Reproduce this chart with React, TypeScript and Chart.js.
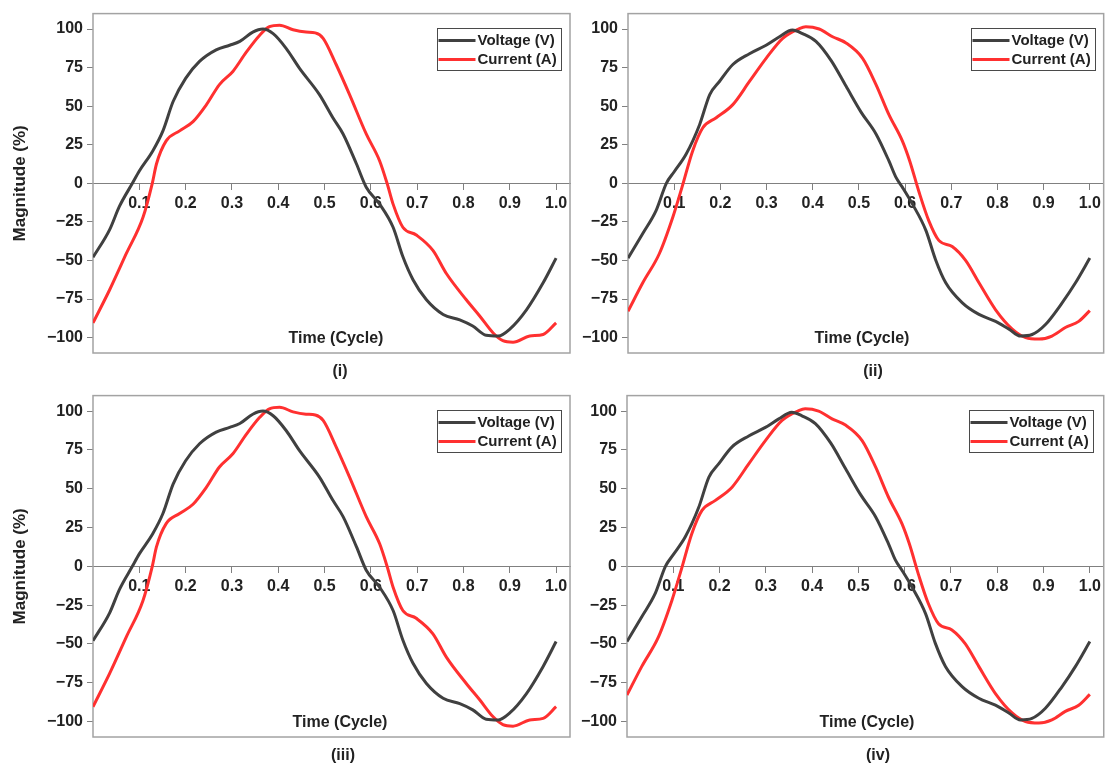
import React, { useEffect, useRef } from "react";
import { Chart, registerables } from "chart.js";

Chart.register(...registerables);

const FONT = "'Liberation Sans', Arial, sans-serif";
const TEXT = "#222222";
const AXIS = "#808080";
const FRAME = "#a3a3a3";
const VOLT_COLOR = "#404040";
const CURR_COLOR = "#ff3030";

// ---------- tick labels / texts ----------
const xTicks = [0.1, 0.2, 0.3, 0.4, 0.5, 0.6, 0.7, 0.8, 0.9, 1.0];
const yTicks = [-100, -75, -50, -25, 0, 25, 50, 75, 100];
const seriesLabels = ["Voltage (V)", "Current (A)"];
const captions = ["(i)", "(ii)", "(iii)", "(iv)"];
const xTitle = "Time (Cycle)";
const yTitle = "Magnitude (%)";

// ---------- data: case (i) / (iii) ----------
const voltageAT = [0, 0.036, 0.057, 0.085, 0.1, 0.129, 0.151, 0.173, 0.2, 0.23, 0.266, 0.295, 0.317, 0.345, 0.367, 0.389, 0.417, 0.446, 0.489, 0.518, 0.54, 0.569, 0.59, 0.619, 0.648, 0.669, 0.691, 0.72, 0.756, 0.792, 0.82, 0.849, 0.875, 0.9, 0.936, 0.972, 1.0];
const voltageAV = [-48, -30, -15, 0, 8, 21, 34, 53, 68, 79, 86.5, 89.5, 92, 98, 100, 97, 87.5, 74.5, 57.5, 42.5, 32, 12.5, -2.5, -13.5, -28.5, -47.5, -62.5, -75.5, -85, -88.5, -92.5, -98.5, -99, -94.5, -82, -64.5, -48.5];
const currentAT = [0, 0.036, 0.072, 0.108, 0.128, 0.137, 0.158, 0.187, 0.216, 0.245, 0.273, 0.302, 0.331, 0.36, 0.381, 0.403, 0.432, 0.46, 0.48, 0.497, 0.525, 0.554, 0.59, 0.619, 0.635, 0.648, 0.669, 0.698, 0.734, 0.763, 0.806, 0.835, 0.864, 0.885, 0.907, 0.943, 0.972, 1.0];
const currentAV = [-90.5, -69, -45.5, -22, 0, 12.5, 27.5, 34, 40, 51, 64, 72.5, 85, 96, 101.5, 102.5, 99.5, 98, 97.5, 94, 77, 57.5, 32, 14.5, 0, -13.5, -28.5, -33.5, -43.5, -58.5, -75.5, -86, -97, -102, -103, -99, -98, -90.5];

// ---------- data: case (ii) / (iv) ----------
const voltageBT = [0, 0.032, 0.061, 0.083, 0.1, 0.126, 0.155, 0.177, 0.198, 0.227, 0.263, 0.299, 0.328, 0.356, 0.378, 0.407, 0.44, 0.472, 0.505, 0.537, 0.565, 0.58, 0.594, 0.616, 0.645, 0.666, 0.688, 0.724, 0.76, 0.796, 0.825, 0.85, 0.875, 0.904, 0.94, 0.969, 1.0];
const voltageBV = [-48.5, -32.5, -17.5, 0, 7.5, 19, 38, 57.5, 66, 77, 84, 89.5, 95, 99.3, 97, 92, 79.5, 63, 46, 32, 14.5, 4, -2.5, -13.5, -30.5, -49.5, -64.5, -77.5, -85, -89.5, -94.5, -99, -98, -91.5, -77.5, -64.5, -48.5];
const currentBT = [0, 0.032, 0.068, 0.097, 0.117, 0.14, 0.162, 0.191, 0.227, 0.263, 0.299, 0.335, 0.371, 0.385, 0.414, 0.443, 0.472, 0.508, 0.537, 0.565, 0.594, 0.61, 0.63, 0.651, 0.673, 0.702, 0.731, 0.76, 0.796, 0.832, 0.861, 0.89, 0.918, 0.947, 0.976, 1.0];
const currentBV = [-83, -64.5, -45.5, -22, -2.5, 21, 36, 42.5, 51, 66, 81, 94, 100.3, 101.5, 100, 95, 91, 81, 64, 44.5, 27.5, 14.5, -5.5, -24, -37, -41, -50, -64.5, -82, -94.5, -100, -101, -99, -93.5, -89.5, -82.5];

type Panel = {
  left: number; top: number; w: number; h: number;
  pad: { top: number; right: number; bottom: number; left: number };
  yW: number; showYTitle: boolean;
  vt: number[]; vv: number[]; ct: number[]; cv: number[];
  caption: string; capX: number; capY: number; timeX: number; legendInset: number;
};

const PANELS: Panel[] = [
  { left: 0, top: 0, w: 575, h: 382, pad: { top: 12, right: 5, bottom: 29, left: 0 }, yW: 93, showYTitle: true,
    vt: voltageAT, vv: voltageAV, ct: currentAT, cv: currentAV, caption: captions[0], capX: 340, capY: 372, timeX: 336, legendInset: 9 },
  { left: 575, top: 0, w: 531, h: 382, pad: { top: 12, right: 2, bottom: 29, left: 0 }, yW: 53, showYTitle: false,
    vt: voltageBT, vv: voltageBV, ct: currentBT, cv: currentBV, caption: captions[1], capX: 298, capY: 372, timeX: 287, legendInset: 9 },
  { left: 0, top: 382, w: 575, h: 385, pad: { top: 12, right: 5, bottom: 30, left: 0 }, yW: 93, showYTitle: true,
    vt: voltageAT, vv: voltageAV, ct: currentAT, cv: currentAV, caption: captions[2], capX: 343, capY: 374, timeX: 340, legendInset: 9 },
  { left: 575, top: 382, w: 531, h: 385, pad: { top: 12, right: 1, bottom: 30, left: 0 }, yW: 52, showYTitle: false,
    vt: voltageBT, vv: voltageBV, ct: currentBT, cv: currentBV, caption: captions[3], capX: 303, capY: 374, timeX: 292, legendInset: 11 },
];

function toPoints(t: number[], v: number[]) {
  return t.map((x, i) => ({ x, y: v[i] }));
}

function PanelChart({ p }: { p: Panel }) {
  const ref = useRef<HTMLCanvasElement | null>(null);
  useEffect(() => {
    if (!ref.current) return;
    const deco = {
      id: "deco" + p.caption,
      beforeDatasetsDraw(chart: any) {
        const { ctx, chartArea: ca } = chart;
        ctx.save();
        ctx.strokeStyle = FRAME;
        ctx.lineWidth = 1.5;
        ctx.strokeRect(ca.left, ca.top, ca.right - ca.left, ca.bottom - ca.top);
        ctx.restore();
      },
      afterDatasetsDraw(chart: any) {
        const { ctx, chartArea: ca } = chart;
        ctx.save();
        // legend
        const bw = 124, bh = 42;
        const bx = Math.round(ca.right - p.legendInset - bw) + 0.5;
        const by = Math.round(ca.top + 14) + 0.5;
        ctx.fillStyle = "#fff";
        ctx.fillRect(bx, by, bw, bh);
        ctx.strokeStyle = "#4a4a4a";
        ctx.lineWidth = 1;
        ctx.strokeRect(bx, by, bw, bh);
        chart.data.datasets.forEach((ds: any, i: number) => {
          const yy = by + 12 + i * 19;
          ctx.strokeStyle = ds.borderColor;
          ctx.lineWidth = 3;
          ctx.beginPath();
          ctx.moveTo(bx + 1, yy);
          ctx.lineTo(bx + 38, yy);
          ctx.stroke();
          ctx.fillStyle = TEXT;
          ctx.font = `bold 15px ${FONT}`;
          ctx.textAlign = "left";
          ctx.textBaseline = "middle";
          ctx.fillText(ds.label, bx + 40, yy + 0.5);
        });
        // x title inside the plot
        ctx.fillStyle = TEXT;
        ctx.font = `bold 16px ${FONT}`;
        ctx.textAlign = "center";
        ctx.textBaseline = "middle";
        ctx.fillText(xTitle, p.timeX, ca.bottom - 14);
        // caption
        ctx.fillText(p.caption, p.capX, p.capY);
        ctx.restore();
      },
    };
    const chart = new Chart(ref.current, {
      type: "line",
      data: {
        datasets: [
          { label: seriesLabels[0], data: toPoints(p.vt, p.vv), borderColor: VOLT_COLOR, borderWidth: 3, pointRadius: 0, cubicInterpolationMode: "monotone", fill: false },
          { label: seriesLabels[1], data: toPoints(p.ct, p.cv), borderColor: CURR_COLOR, borderWidth: 3, pointRadius: 0, cubicInterpolationMode: "monotone", fill: false },
        ],
      },
      options: {
        responsive: false,
        animation: false,
        events: [],
        layout: { padding: p.pad },
        plugins: { legend: { display: false }, tooltip: { enabled: false } },
        scales: {
          x: {
            type: "linear",
            min: 0,
            max: 1.03,
            position: { y: 0 } as any,
            afterBuildTicks: (ax: any) => { ax.ticks = xTicks.map((v) => ({ value: v })); },
            ticks: {
              autoSkip: false, maxRotation: 0, minRotation: 0, padding: 5, color: TEXT,
              font: { family: FONT, size: 16, weight: "bold" },
              callback: (v: any) => Number(v).toFixed(1),
            },
            grid: { drawOnChartArea: false, drawTicks: true, tickLength: 6, color: AXIS, lineWidth: 1 },
            border: { display: true, color: AXIS, width: 1 },
          },
          y: {
            type: "linear",
            position: "left",
            min: -110,
            max: 110,
            afterBuildTicks: (ax: any) => { ax.ticks = yTicks.map((v) => ({ value: v })); },
            afterFit: (s: any) => { s.width = p.yW; },
            ticks: {
              padding: 4, color: TEXT,
              font: { family: FONT, size: 16, weight: "bold" },
              callback: (v: any) => (Number(v) < 0 ? "\u2212" + Math.abs(Number(v)) : String(v)),
            },
            grid: { drawOnChartArea: false, drawTicks: true, tickLength: 6, color: AXIS, lineWidth: 1 },
            border: { display: false },
            title: {
              display: p.showYTitle, text: yTitle, color: TEXT,
              font: { family: FONT, size: 17, weight: "bold" },
              padding: { top: 10, bottom: 0 },
            },
          },
        },
      } as any,
      plugins: [deco],
    });
    return () => chart.destroy();
  }, [p]);
  return (
    <canvas
      ref={ref}
      width={p.w}
      height={p.h}
      style={{ position: "absolute", left: p.left, top: p.top, width: p.w, height: p.h }}
    />
  );
}

export default function App() {
  return (
    <div style={{ position: "fixed", left: 0, top: 0, width: 1106, height: 767, background: "#fff", overflow: "hidden" }}>
      {PANELS.map((p, i) => (
        <PanelChart key={i} p={p} />
      ))}
    </div>
  );
}
